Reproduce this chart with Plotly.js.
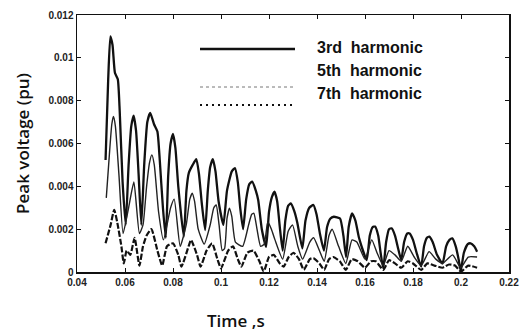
<!DOCTYPE html>
<html>
<head>
<meta charset="utf-8">
<script src="https://cdn.plot.ly/plotly-3.0.1.min.js"></script>
<style>html,body{margin:0;padding:0;background:#fff;}#chart{width:521px;height:333px;}</style>
</head>
<body>
<div id="chart"></div>
<script>
// Time (s) and peak voltage (pu)
const t3 = [0.0519,0.0530,0.0539,0.0548,0.0558,0.0570,0.0578,0.0590,0.0603,0.0615,0.0626,0.0636,0.0646,0.0657,0.0668,0.0680,0.0693,0.0705,0.0721,0.0735,0.0745,0.0758,0.0770,0.0780,0.0790,0.0800,0.0810,0.0822,0.0845,0.0856,0.0866,0.0882,0.0897,0.0908,0.0920,0.0934,0.0945,0.0955,0.0966,0.0977,0.0990,0.1010,0.1025,0.1045,0.1058,0.1070,0.1080,0.1092,0.1105,0.1118,0.1130,0.1145,0.1155,0.1170,0.1188,0.1200,0.1212,0.1223,0.1234,0.1245,0.1257,0.1268,0.1280,0.1291,0.1305,0.1318,0.1339,0.1352,0.1368,0.1385,0.1398,0.1412,0.1429,0.1442,0.1456,0.1470,0.1496,0.1510,0.1521,0.1532,0.1546,0.1560,0.1575,0.1607,0.1620,0.1632,0.1642,0.1655,0.1665,0.1676,0.1688,0.1700,0.1711,0.1725,0.1738,0.1751,0.1763,0.1776,0.1786,0.1800,0.1815,0.1834,0.1846,0.1858,0.1868,0.1882,0.1900,0.1923,0.1938,0.1952,0.1964,0.1978,0.1990,0.1999,0.2012,0.2028,0.2040,0.2055,0.2067];
const v3 = [0.00523,0.0090,0.0110,0.0106,0.0093,0.0090,0.0075,0.0042,0.0022,0.0050,0.0068,0.0073,0.0066,0.0045,0.0022,0.0050,0.0070,0.00743,0.0069,0.00656,0.0052,0.0030,0.0016,0.0045,0.0060,0.00645,0.0058,0.0040,0.00165,0.0038,0.00463,0.0050,0.00527,0.0046,0.0032,0.00196,0.0038,0.0049,0.00527,0.0047,0.0033,0.0022,0.0038,0.0047,0.00485,0.0042,0.0030,0.0020,0.0034,0.0041,0.00422,0.0038,0.00336,0.0020,0.00118,0.0028,0.0035,0.00375,0.0033,0.0021,0.0010,0.0024,0.0031,0.0032,0.00285,0.0023,0.0011,0.0024,0.0030,0.00313,0.0027,0.0018,0.0010,0.0021,0.0025,0.00258,0.0025,0.0017,0.0007,0.0021,0.00274,0.0024,0.0016,0.00056,0.0017,0.0021,0.00212,0.0017,0.0009,0.00017,0.0014,0.0020,0.00204,0.0017,0.0011,0.00056,0.0014,0.0018,0.0018,0.0015,0.0009,0.00025,0.0012,0.0016,0.00165,0.0014,0.0008,0.0004,0.0012,0.0015,0.00157,0.0012,0.0006,0.00005,0.0009,0.0013,0.00134,0.0012,0.00095];

const t5 = [0.0522,0.0535,0.0545,0.0552,0.0560,0.0575,0.0592,0.0615,0.0637,0.0660,0.0675,0.0690,0.0702,0.0712,0.0722,0.0740,0.0760,0.0790,0.0805,0.0830,0.0855,0.0870,0.0880,0.0890,0.0905,0.0930,0.0955,0.0970,0.0980,0.0992,0.1005,0.1015,0.1025,0.1035,0.1045,0.1060,0.1090,0.1115,0.1128,0.1137,0.1150,0.1165,0.1180,0.1195,0.1210,0.1225,0.1257,0.1280,0.1298,0.1320,0.1340,0.1370,0.1386,0.1410,0.1430,0.1450,0.1463,0.1490,0.1520,0.1546,0.1566,0.1600,0.1628,0.1650,0.1676,0.1700,0.1725,0.1751,0.1778,0.1805,0.1834,0.1867,0.1895,0.1923,0.1965,0.1999,0.2030,0.2067];
const v5 = [0.00346,0.0055,0.0069,0.00726,0.0068,0.0045,0.0018,0.0030,0.0042,0.0018,0.0022,0.0040,0.0051,0.00547,0.0050,0.0028,0.0015,0.0030,0.0034,0.0012,0.0022,0.0034,0.00368,0.0033,0.0020,0.0013,0.0022,0.0030,0.00313,0.0022,0.0010,0.0011,0.0025,0.00298,0.0026,0.0014,0.0012,0.0022,0.0027,0.00274,0.0020,0.0012,0.0013,0.00235,0.0020,0.0015,0.0006,0.0019,0.0022,0.0012,0.0006,0.0014,0.0016,0.0010,0.0005,0.0017,0.0020,0.0012,0.0004,0.0015,0.0014,0.0006,0.0015,0.0009,0.0003,0.0010,0.0008,0.0005,0.0012,0.0007,0.0003,0.00095,0.0006,0.0004,0.0008,0.0002,0.0007,0.0007];

const t7 = [0.0519,0.0540,0.0555,0.0568,0.0585,0.0595,0.0607,0.0622,0.0640,0.0660,0.0675,0.0690,0.0710,0.0735,0.0755,0.0775,0.0800,0.0822,0.0835,0.0865,0.0875,0.0900,0.0915,0.0940,0.0963,0.0985,0.1000,0.1030,0.1050,0.1070,0.1085,0.1110,0.1135,0.1160,0.1178,0.1200,0.1220,0.1245,0.1261,0.1282,0.1302,0.1325,0.1345,0.1370,0.1385,0.1410,0.1430,0.1450,0.1468,0.1495,0.1520,0.1545,0.1570,0.1600,0.1625,0.1645,0.1676,0.1700,0.1725,0.1751,0.1778,0.1800,0.1834,0.1860,0.1890,0.1923,0.1950,0.1975,0.2000,0.2030,0.2067];
const v7 = [0.00134,0.0022,0.0029,0.0023,0.0012,0.0004,0.0010,0.0008,0.0016,0.0003,0.0012,0.0017,0.0020,0.0010,0.0003,0.0012,0.00134,0.0008,0.00025,0.0012,0.0015,0.0008,0.00025,0.0010,0.00134,0.0006,0.00017,0.0010,0.0012,0.0006,0.00025,0.0009,0.0010,0.0005,0.00002,0.0007,0.0008,0.0004,0.00025,0.0007,0.0009,0.0006,0.0001,0.0006,0.00065,0.0004,0.0001,0.0006,0.0007,0.0005,0.0001,0.0006,0.0005,0.0002,0.0005,0.0005,0.0001,0.00055,0.0004,0.0002,0.0005,0.0004,0.0001,0.0004,0.0003,0.0002,0.00035,0.0003,0.00002,0.0003,0.0002];

const seriesNames = ['3rd\u00a0 harmonic','5th\u00a0 harmonic','7th\u00a0 harmonic'];
const xTicks = [0.04,0.06,0.08,0.1,0.12,0.14,0.16,0.18,0.2,0.22];
const yTicks = [0,0.002,0.004,0.006,0.008,0.01,0.012];
const xTitle = 'Time ,s';
const yTitle = 'Peak voltage (pu)';

const traces = [
  {x:t3,y:v3,mode:'lines',name:seriesNames[0],line:{color:'#111',width:2.3,shape:'spline',smoothing:0.5}},
  {x:t5,y:v5,mode:'lines',name:seriesNames[1],line:{color:'#222',width:1.4,shape:'spline',smoothing:0.5}},
  {x:t7,y:v7,mode:'lines',name:seriesNames[2],line:{color:'#111',width:2.2,dash:'6px,2px',shape:'spline',smoothing:0.5}}
];

const axisCommon = {
  showgrid:false, zeroline:false, showline:true, linecolor:'#111', linewidth:1.5,
  mirror:'ticks', ticks:'inside', ticklen:4, tickcolor:'#111', tickwidth:1,
  tickfont:{family:'Liberation Sans, Arial, sans-serif', size:10, color:'#222', weight:'bold'}
};

const W = 432, H = 257, L = 77, T = 15;
const px = p => (p-L)/W;
const py = p => (T+H-p)/H;
const lx0 = px(200), lx1 = px(295);
const layout = {
  width:521, height:333,
  margin:{l:L, r:521-L-W, t:T, b:333-T-H},
  paper_bgcolor:'#fff', plot_bgcolor:'#fff',
  showlegend:false,
  xaxis:Object.assign({}, axisCommon, {range:[0.04,0.22], tickvals:xTicks, ticktext:xTicks.map(String)}),
  yaxis:Object.assign({}, axisCommon, {
    range:[0,0.012], tickvals:yTicks, ticktext:yTicks.map(String),
    title:{text:yTitle, font:{family:'Open Sans, sans-serif', size:17, color:'#111', weight:600}, standoff:14}
  }),
  shapes:[
    {type:'line', xref:'paper', yref:'paper', x0:lx0, x1:lx1, y0:py(49), y1:py(49), line:{color:'#111', width:2.5}},
    {type:'line', xref:'paper', yref:'paper', x0:lx0, x1:lx1, y0:py(87), y1:py(87), line:{color:'#777', width:1, dash:'dot'}},
    {type:'line', xref:'paper', yref:'paper', x0:lx0, x1:lx1, y0:py(105), y1:py(105), line:{color:'#111', width:2, dash:'2px,4px'}}
  ],
  annotations:[0,1,2].map(i => ({
    xref:'paper', yref:'paper', x:px(316), y:py(47+23*i), xanchor:'left', yanchor:'middle',
    text:'<b>'+seriesNames[i]+'</b>', showarrow:false, borderpad:0,
    font:{family:'Liberation Sans, Arial, sans-serif', size:16, color:'#111'}
  })).concat([{
    xref:'paper', yref:'paper', x:px(236), y:py(320), xanchor:'center', yanchor:'middle',
    text:xTitle, showarrow:false,
    font:{family:'Open Sans, sans-serif', size:17, color:'#111', weight:600}
  }])
};

Plotly.newPlot('chart', traces, layout, {staticPlot:true, displayModeBar:false});
</script>
</body>
</html>
